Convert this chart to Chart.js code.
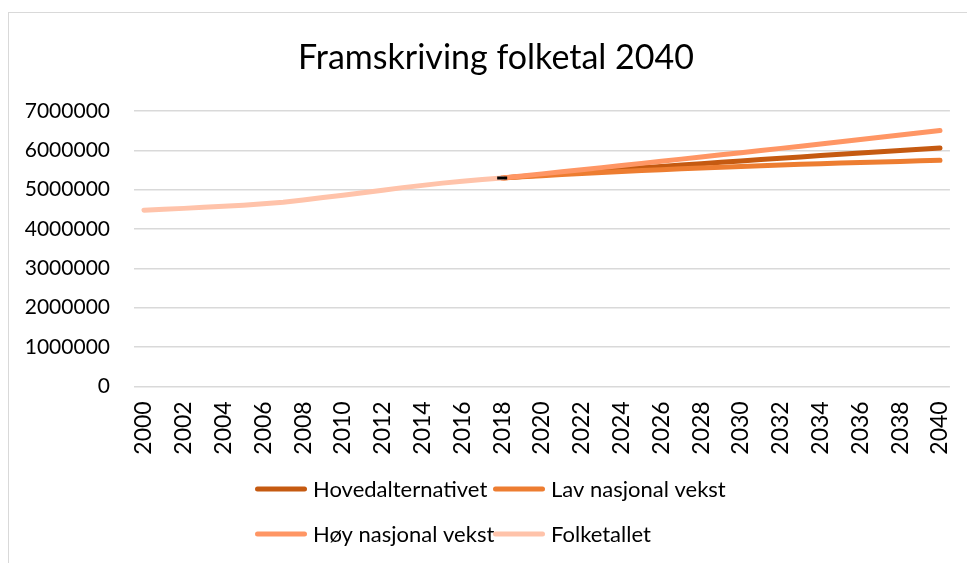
<!DOCTYPE html>
<html>
<head>
<meta charset="utf-8">
<script src="https://cdn.jsdelivr.net/npm/chart.js@4.4.1/dist/chart.umd.min.js"></script>
<style>
  html, body { margin: 0; padding: 0; background: #fff; overflow: hidden; }
  #frame { position: absolute; left: 8px; top: 12px; width: 974px; height: 570px; border: 1px solid #d9d9d9; }
  #chart { display: block; }
</style>
</head>
<body>
<div id="frame"><canvas id="chart" width="974" height="570"></canvas></div>
<script>
// years on the category axis
var years = [];
for (var y = 2000; y <= 2040; y++) years.push(String(y));

// registered population 2000-2018
var folketallet = [4478497, 4503436, 4524066, 4552252, 4577457, 4606363, 4640219, 4681134, 4737171, 4799252,
                   4858199, 4920305, 4985870, 5051275, 5109056, 5165802, 5213985, 5258317, 5295619];

// projections 2018-2040
var hovedalternativet = [5295619, 5334000, 5372000, 5409000, 5446000, 5483000, 5519000, 5555000, 5591000, 5626000, 5661000, 5696000,
                         5731000, 5765000, 5799000, 5833000, 5866000, 5899000, 5932000, 5965000, 5997000, 6029000, 6061000];
var lavVekst = [5295619, 5326000, 5355000, 5383000, 5409000, 5435000, 5460000, 5484000, 5507000, 5529000, 5550000, 5570000,
                5590000, 5609000, 5627000, 5644000, 5660000, 5676000, 5691000, 5705000, 5719000, 5732000, 5745000];
var hoyVekst = [5295619, 5348000, 5401000, 5454000, 5507000, 5560000, 5614000, 5668000, 5722000, 5776000, 5830000, 5885000,
                5940000, 5995000, 6050000, 6106000, 6162000, 6218000, 6274000, 6331000, 6388000, 6445000, 6502000];

// black marker at the start of the projections
var markerYear = '2018';
var markerValue = 5295619;

var yTicks = { min: 0, max: 7000000, step: 1000000 };

/* put a series on the full year axis, null where it has no value */
function onAxis(values, startYear) {
    var out = [];
    var start = years.indexOf(startYear);
    for (var i = 0; i < years.length; i++) {
        var k = i - start;
        out.push(k >= 0 && k < values.length ? values[k] : null);
    }
    return out;
}

function markerSeries() {
    return years.map(function (yr) { return yr === markerYear ? markerValue : null; });
}

function lineSet(label, data, color, order) {
    return {
        label: label,
        data: data,
        borderColor: color,
        backgroundColor: color,
        borderWidth: 5,
        borderCapStyle: 'round',
        borderJoinStyle: 'round',
        pointRadius: 0,
        pointHoverRadius: 0,
        tension: 0,
        spanGaps: false,
        order: order,
        inLegend: true
    };
}

/* Excel style legend: two columns, two rows */
var gridLegend = {
    id: 'gridLegend',
    afterDraw: function (chart) {
        var ctx = chart.ctx;
        var cols = [246, 484];
        var rows = [476, 521];
        var items = chart.data.datasets.filter(function (d) { return d.inLegend; });
        ctx.save();
        ctx.font = '22px Lato';
        ctx.textBaseline = 'middle';
        ctx.textAlign = 'left';
        items.forEach(function (d, i) {
            var x = cols[i % 2];
            var yy = rows[Math.floor(i / 2)];
            ctx.strokeStyle = d.borderColor;
            ctx.lineWidth = 5;
            ctx.lineCap = 'round';
            ctx.beginPath();
            ctx.moveTo(x + 2.5, yy);
            ctx.lineTo(x + 49.5, yy);
            ctx.stroke();
            ctx.fillStyle = '#000';
            ctx.fillText(d.label, x + 58, yy + 1);
        });
        ctx.restore();
    }
};

var ctx = document.getElementById('chart').getContext('2d');
var chart = new Chart(ctx, {
    type: 'line',
    data: {
        labels: years,
        datasets: [
            lineSet('Hovedalternativet', onAxis(hovedalternativet, '2018'), '#C55A11', 4),
            lineSet('Lav nasjonal vekst', onAxis(lavVekst, '2018'), '#ED7D31', 3),
            lineSet('Høy nasjonal vekst', onAxis(hoyVekst, '2018'), '#FF9664', 2),
            lineSet('Folketallet', onAxis(folketallet, '2000'), '#FFC3AA', 1),
            {
                label: '',
                data: markerSeries(),
                showLine: false,
                pointStyle: 'line',
                pointRadius: 5,
                pointBorderWidth: 3,
                pointBorderColor: '#000',
                pointBackgroundColor: '#000',
                order: 0
            }
        ]
    },
    options: {
        responsive: false,
        animation: false,
        layout: { padding: { left: 0, right: 0, top: 0, bottom: 116.7 } },
        plugins: {
            legend: { display: false },
            tooltip: { enabled: false },
            title: {
                display: true,
                text: 'Framskriving folketal 2040',
                color: '#000',
                font: { family: 'Lato', size: 34, weight: 'normal', lineHeight: 1.2 },
                padding: { top: 24.6, bottom: 32.6 }
            }
        },
        scales: {
            x: {
                offset: true,
                grid: { display: false, drawTicks: false, offset: true },
                border: { display: false },
                ticks: {
                    autoSkip: false,
                    minRotation: 90,
                    maxRotation: 90,
                    padding: 15,
                    color: '#000',
                    font: { family: 'Lato', size: 23 },
                    callback: function (val, i) {
                        return i % 2 === 0 ? this.getLabelForValue(val) : '';
                    }
                },
                afterFit: function (scale) { scale.height = 80; }
            },
            y: {
                min: yTicks.min,
                max: yTicks.max,
                grid: { color: '#d9d9d9', lineWidth: 1.5, drawTicks: false },
                border: { display: false },
                ticks: {
                    stepSize: yTicks.step,
                    padding: 24,
                    color: '#000',
                    font: { family: 'Lato', size: 21 },
                    callback: function (v) { return String(v); }
                },
                afterFit: function (scale) { scale.width = 125; }
            },
            // empty right margin, keeps the title centred on the whole frame
            rightGap: {
                position: 'right',
                grid: { display: false, drawTicks: false },
                border: { display: false },
                ticks: { display: false },
                afterFit: function (scale) { scale.width = 33; }
            }
        }
    },
    plugins: [gridLegend]
});
</script>
</body>
</html>
